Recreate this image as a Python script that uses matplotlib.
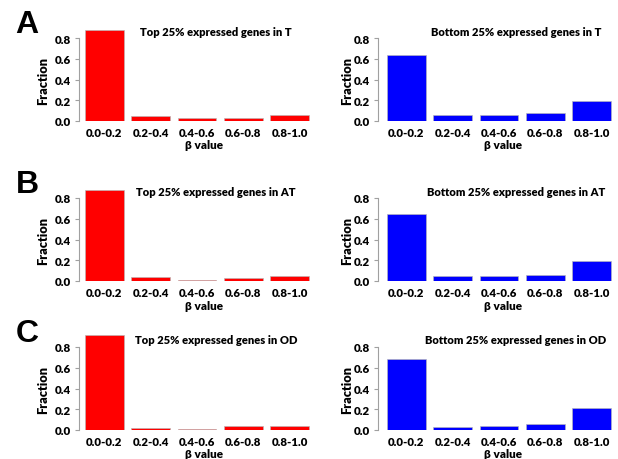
import matplotlib
matplotlib.use("Agg")
import matplotlib.pyplot as plt

plt.rcParams['font.family'] = ['Lato', 'DejaVu Sans']
plt.rcParams['font.weight'] = 'heavy'

categories = ["0.0-0.2", "0.2-0.4", "0.4-0.6", "0.6-0.8", "0.8-1.0"]
yticks = [0.0, 0.2, 0.4, 0.6, 0.8]

top_T = [0.88, 0.047, 0.028, 0.031, 0.054]
bottom_T = [0.637, 0.060, 0.054, 0.073, 0.195]
top_AT = [0.88, 0.038, 0.014, 0.026, 0.048]
bottom_AT = [0.650, 0.051, 0.046, 0.062, 0.195]
top_OD = [0.92, 0.022, 0.012, 0.034, 0.034]
bottom_OD = [0.680, 0.033, 0.039, 0.055, 0.208]

panels = [
    ("A", "Top 25% expressed genes in T", top_T, "Bottom 25% expressed genes in T", bottom_T),
    ("B", "Top 25% expressed genes in AT", top_AT, "Bottom 25% expressed genes in AT", bottom_AT),
    ("C", "Top 25% expressed genes in OD", top_OD, "Bottom 25% expressed genes in OD", bottom_OD),
]

W, H = 618, 460
fig = plt.figure(figsize=(W / 100, H / 100), dpi=100)

def fx(px):
    return px / W

def fy(py):
    return 1 - py / H

zero_rows = [122, 282, 431]
pxy = 83 / 0.8      # pixels per y unit
pxx = 38.6          # pixels per x unit
ytop = 0.95
xright = 6.1
cols = [dict(axis=79, barleft=85, color='#ff0000', title_x=216, xlab_x=204, ylab_x=43),
        dict(axis=378, barleft=387, color='#0000ff', title_x=516, xlab_x=503, ylab_x=347)]

centers = [0.7 + 1.2 * i for i in range(5)]
FW = 'heavy'

for r, (letter, t_top, v_top, t_bot, v_bot) in enumerate(panels):
    z = zero_rows[r]
    for c, (title, vals) in enumerate([(t_top, v_top), (t_bot, v_bot)]):
        col = cols[c]
        x0 = 0.2 - (col['barleft'] - col['axis']) / pxx
        wpx = (xright - x0) * pxx
        hpx = ytop * pxy
        ax = fig.add_axes([fx(col['axis']), fy(z), wpx / W, hpx / H])
        ax.bar(centers, vals, width=1.0, color=col['color'], edgecolor='#b8b8b8', linewidth=0.45)
        ax.set_xlim(x0, xright)
        ax.set_ylim(0, ytop)
        for s in ['top', 'right', 'bottom']:
            ax.spines[s].set_visible(False)
        ax.spines['left'].set_bounds(0, 0.8)
        ax.spines['left'].set_color('#a0a0a0')
        ax.spines['left'].set_linewidth(0.8)
        ax.set_yticks(yticks)
        ax.set_yticklabels([f"{v:.1f}" for v in yticks], fontsize=8.3, fontweight=FW)
        ax.tick_params(axis='y', length=3, color='#a0a0a0', pad=3)
        ax.set_xticks(centers)
        ax.set_xticklabels(categories, fontsize=8.2, fontweight=FW)
        ax.tick_params(axis='x', length=0, pad=4)
        ax.patch.set_alpha(0)
        fig.text(fx(col['title_x']), fy(z - 90), title, fontsize=8, fontweight=FW,
                 ha='center', va='center')
        fig.text(fx(col['xlab_x']), fy(z + 24), "β value", fontsize=8.5, fontweight=FW,
                 ha='center', va='center')
        fig.text(fx(col['ylab_x']), fy(z - 41), "Fraction", fontsize=9.2, fontweight=FW,
                 ha='center', va='center', rotation=90)
    fig.text(fx(27), fy(z - 97), letter, fontsize=23, fontweight='bold', ha='center', va='center',
             family=['Liberation Sans', 'DejaVu Sans'])

fig.savefig("out.png", dpi=100)
